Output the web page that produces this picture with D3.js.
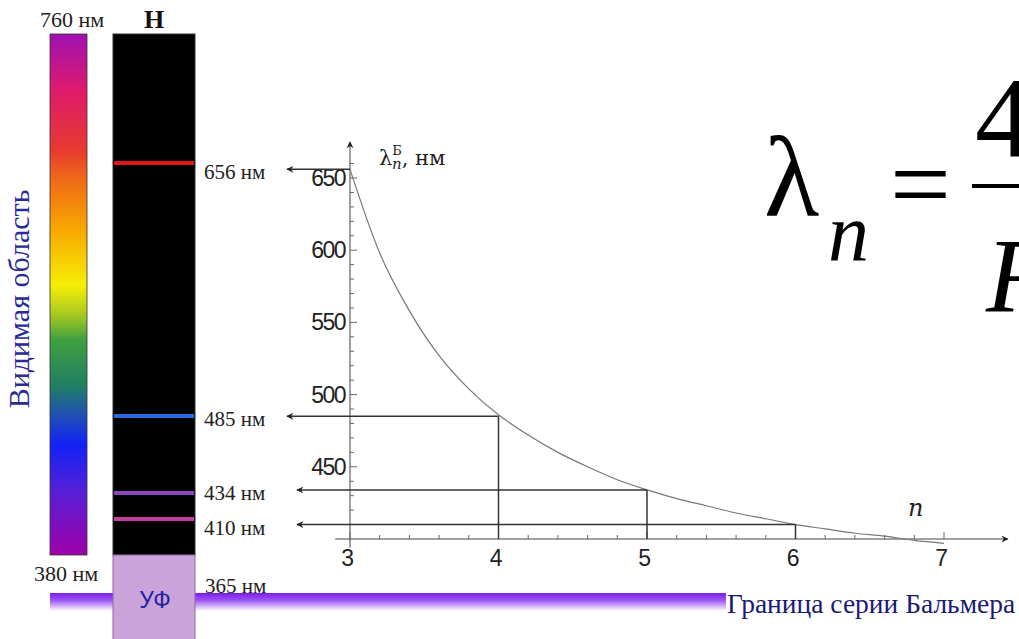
<!DOCTYPE html>
<html lang="ru">
<head>
  <meta charset="UTF-8">
  <title>Серия Бальмера</title>
  <script src="https://d3js.org/d3.v7.min.js"></script>
  <style>
    body { margin: 0; background: #fff; }
    svg { display: block; }
    .serif { font-family: "Liberation Serif", "Times New Roman", serif; }
    .tick-label { font-family: "Liberation Sans", Arial, sans-serif; font-size: 23px; letter-spacing: -1.5px; fill: #222; }
  </style>
</head>
<body>
  <svg id="chart" width="1019" height="639"></svg>
  <script>
    // curve: lambda (nm) against n
    var nValues = [3, 3.2, 3.4, 3.6, 3.8, 4, 4.2, 4.4, 4.6, 4.8, 5, 5.2, 5.4, 5.6, 5.8, 6, 6.2, 6.4, 6.6, 6.8, 7];
    var lambdaValues = [656, 598, 558, 527, 504, 486, 472, 460, 450, 441, 434, 428, 423, 418, 414, 410, 407, 404, 402, 399, 397];

    // spectral lines of hydrogen
    var lineNm = [656, 485, 434, 410];
    var lineColors = ["#e3141a", "#2a68e0", "#8c46c0", "#c2409a"];
    var lineN = [3, 4, 5, 6];

    var xTicks = [3, 4, 5, 6, 7];
    var yTicks = [450, 500, 550, 600, 650];

    // visible spectrum strip, top to bottom
    var spectrumStops = [
      [0, "#a010b4"], [0.107, "#de1a6c"], [0.223, "#e83a30"], [0.28, "#f06a18"],
      [0.376, "#f8a800"], [0.482, "#f6ee06"], [0.54, "#a6c822"], [0.587, "#40a040"],
      [0.674, "#208062"], [0.731, "#2050b4"], [0.789, "#1222f6"], [0.875, "#5420d8"],
      [1, "#a000a8"]
    ];

    var svg = d3.select("#chart");
    var defs = svg.append("defs");

    var grad = defs.append("linearGradient").attr("id", "spec")
      .attr("x1", 0).attr("y1", 0).attr("x2", 0).attr("y2", 1);
    spectrumStops.forEach(function(s) {
      grad.append("stop").attr("offset", s[0]).attr("stop-color", s[1]);
    });

    var band = defs.append("linearGradient").attr("id", "band")
      .attr("x1", 0).attr("y1", 0).attr("x2", 0).attr("y2", 1);
    band.append("stop").attr("offset", 0).attr("stop-color", "#7a1cf0");
    band.append("stop").attr("offset", 0.4).attr("stop-color", "#9c54f0");
    band.append("stop").attr("offset", 1).attr("stop-color", "#ffffff");

    defs.append("marker").attr("id", "arr")
      .attr("viewBox", "0 0 10 10").attr("refX", 9).attr("refY", 5)
      .attr("markerWidth", 10).attr("markerHeight", 7).attr("markerUnits", "userSpaceOnUse")
      .attr("orient", "auto")
      .append("path").attr("d", "M0,0 L10,5 L0,10 L3,5 Z").attr("fill", "#222");

    // scales of the plot
    var x = d3.scaleLinear().domain([3, 7]).range([350, 944]);
    var y = d3.scaleLinear().domain([400, 650]).range([539, 178]);
    // positions of lines on the H strip
    var barY = d3.scaleLinear().domain([410, 434, 485, 656]).range([519, 493, 416, 163]);

    // ---- left part: spectrum strip and H strip ----
    svg.append("rect").attr("x", 50).attr("y", 34).attr("width", 37).attr("height", 521)
      .attr("fill", "url(#spec)").attr("stroke", "#333").attr("stroke-width", 0.8);

    // Balmer limit band
    svg.append("rect").attr("x", 50).attr("y", 593).attr("width", 676).attr("height", 18)
      .attr("fill", "url(#band)");

    svg.append("rect").attr("x", 113).attr("y", 34).attr("width", 82).attr("height", 521)
      .attr("fill", "#000").attr("stroke", "#333");
    svg.append("rect").attr("x", 113).attr("y", 555).attr("width", 82).attr("height", 90)
      .attr("fill", "#c9a3d9").attr("stroke", "#8e6a9e");

    svg.selectAll(".hline").data(lineNm).enter().append("line")
      .attr("x1", 114).attr("x2", 194)
      .attr("y1", function(d) { return barY(d); })
      .attr("y2", function(d) { return barY(d); })
      .attr("stroke", function(d, i) { return lineColors[i]; })
      .attr("stroke-width", 4);

    svg.selectAll(".hlab").data(lineNm).enter().append("text")
      .attr("class", "serif")
      .attr("x", 204).attr("y", function(d) { return y(d) + 10; })
      .attr("font-size", 21).attr("fill", "#222")
      .text(function(d) { return d + " нм"; });

    svg.append("text").attr("class", "serif").attr("x", 40).attr("y", 27)
      .attr("font-size", 22).attr("fill", "#222").text("760 нм");
    svg.append("text").attr("class", "serif").attr("x", 34).attr("y", 581)
      .attr("font-size", 22).attr("fill", "#222").text("380 нм");
    svg.append("text").attr("class", "serif").attr("x", 205).attr("y", 593)
      .attr("font-size", 21).attr("fill", "#222").text("365 нм");
    svg.append("text").attr("class", "serif").attr("x", 154).attr("y", 28)
      .attr("text-anchor", "middle").attr("font-size", 26).attr("font-weight", "bold")
      .attr("fill", "#111").text("H");
    svg.append("text").attr("x", 155).attr("y", 608)
      .attr("text-anchor", "middle").attr("font-family", "Liberation Sans, Arial, sans-serif")
      .attr("font-size", 23).attr("fill", "#2222a0").text("УФ");

    svg.append("text").attr("class", "serif")
      .attr("transform", "translate(29,299) rotate(-90)")
      .attr("text-anchor", "middle").attr("font-size", 30).attr("fill", "#2a2a96")
      .text("Видимая область");

    svg.append("text").attr("class", "serif").attr("x", 727).attr("y", 613)
      .attr("font-size", 27.5).attr("fill", "#1a1a72").text("Граница серии Бальмера");

    // ---- plot ----
    var g = svg.append("g");

    // axes
    g.append("line").attr("x1", x(2.9)).attr("x2", x(7.43))
      .attr("y1", y(400)).attr("y2", y(400))
      .attr("stroke", "#444").attr("marker-end", "url(#arr)");
    g.append("line").attr("x1", x(3)).attr("x2", x(3))
      .attr("y1", y(394)).attr("y2", y(675))
      .attr("stroke", "#444").attr("marker-end", "url(#arr)");

    var xMinor = d3.range(3, 7.01, 0.2);
    g.selectAll(".xt").data(xMinor).enter().append("line")
      .attr("x1", function(d) { return x(d); }).attr("x2", function(d) { return x(d); })
      .attr("y1", y(400))
      .attr("y2", function(d) { return Math.abs(d - Math.round(d)) < 1e-6 ? y(400) - 7 : y(400) - 4; })
      .attr("stroke", "#666");

    var yMinor = d3.range(410, 661, 10);
    g.selectAll(".yt").data(yMinor).enter().append("line")
      .attr("y1", function(d) { return y(d); }).attr("y2", function(d) { return y(d); })
      .attr("x1", x(3))
      .attr("x2", function(d) { return d % 50 === 0 ? x(3) + 7 : x(3) + 4; })
      .attr("stroke", "#666");

    g.selectAll(".xl").data(xTicks).enter().append("text")
      .attr("class", "tick-label")
      .attr("x", function(d) { return x(d) - 3; }).attr("y", 566)
      .attr("text-anchor", "middle")
      .text(function(d) { return d; });

    g.selectAll(".yl").data(yTicks).enter().append("text")
      .attr("class", "tick-label")
      .attr("x", x(3) - 5).attr("y", function(d) { return y(d) + 8; })
      .attr("text-anchor", "end")
      .text(function(d) { return d; });

    // curve
    var pts = nValues.map(function(n, i) { return [n, lambdaValues[i]]; });
    g.append("path").datum(pts)
      .attr("fill", "none").attr("stroke", "#777").attr("stroke-width", 1.2)
      .attr("d", d3.line()
        .x(function(d) { return x(d[0]); })
        .y(function(d) { return y(d[1]); })
        .curve(d3.curveMonotoneX));

    // arrows from the curve to the spectrum
    var arrowEnd = [287, 287, 297, 297];
    lineNm.forEach(function(nm, i) {
      var xn = x(lineN[i]);
      g.append("line").attr("x1", xn).attr("x2", arrowEnd[i])
        .attr("y1", y(nm)).attr("y2", y(nm))
        .attr("stroke", "#333").attr("stroke-width", 1.5).attr("marker-end", "url(#arr)");
      if (i > 0) {
        g.append("line").attr("x1", xn).attr("x2", xn)
          .attr("y1", y(nm)).attr("y2", y(400))
          .attr("stroke", "#333").attr("stroke-width", 1.5);
      }
    });

    // axis titles
    var lt = g.append("text").attr("font-family", "DejaVu Serif, serif").attr("fill", "#222")
      .attr("x", 379).attr("y", 165).attr("font-size", 21);
    lt.append("tspan").text("λ");
    lt.append("tspan").attr("dy", -10).attr("font-size", 13).text("Б");
    lt.append("tspan").attr("x", 392).attr("dy", 14).attr("font-size", 15).attr("font-style", "italic").text("n");
    lt.append("tspan").attr("dy", -4).text(", нм");

    g.append("text").attr("font-family", "DejaVu Serif, serif").attr("font-style", "italic")
      .attr("x", 908).attr("y", 516).attr("font-size", 24).attr("fill", "#222").text("n");

    // formula, cut at the right edge
    var f = svg.append("g").attr("class", "serif").attr("fill", "#000");
    f.append("text").attr("x", 764).attr("y", 215).attr("font-size", 114).text("λ");
    f.append("text").attr("x", 828).attr("y", 260).attr("font-size", 82).attr("font-style", "italic").text("n");
    f.append("text").attr("x", 890).attr("y", 220).attr("font-size", 108).text("=");
    f.append("text").attr("x", 975).attr("y", 157).attr("font-size", 114).text("4n²");
    f.append("rect").attr("x", 972).attr("y", 184).attr("width", 60).attr("height", 4);
    f.append("text").attr("x", 986).attr("y", 311).attr("font-size", 106).attr("font-style", "italic").text("R");
  </script>
</body>
</html>
